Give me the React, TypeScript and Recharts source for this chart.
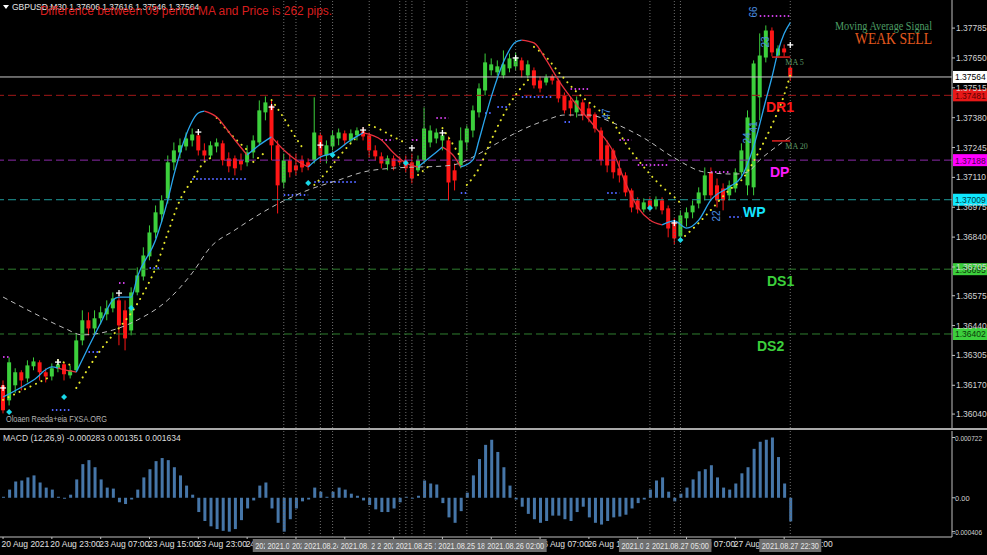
import React from 'react'
import { ComposedChart, Bar, Line, XAxis, YAxis, ReferenceLine, ReferenceDot } from 'recharts'

const FONT = '"Liberation Sans", Arial, sans-serif'
const SERIF = '"Liberation Serif", "Times New Roman", serif'
const SLOTS = 156

// candles, one per slot (oldest first)
const opens = [1.3617,1.36102,1.3617,1.36229,1.36201,1.36256,1.36274,1.36229,1.3621,1.36247,1.36265,1.36215,1.36238,1.36373,1.36464,1.36427,1.36473,1.36491,1.36518,1.36554,1.36509,1.36418,1.3659,1.36662,1.36753,1.36861,1.36943,1.37015,1.37178,1.37223,1.3725,1.37277,1.373,1.37232,1.37209,1.3725,1.37264,1.37196,1.37196,1.37187,1.37178,1.37223,1.37268,1.37404,1.37435,1.37255,1.37087,1.37187,1.37164,1.37187,1.37178,1.37187,1.373,1.37209,1.3725,1.37286,1.37309,1.37277,1.373,1.37318,1.373,1.37232,1.37205,1.37169,1.37196,1.37187,1.37187,1.37178,1.37142,1.37187,1.37268,1.37286,1.37277,1.37277,1.37142,1.37164,1.37268,1.37322,1.37404,1.37503,1.37594,1.37585,1.37571,1.37603,1.37612,1.37639,1.37571,1.37594,1.37548,1.37539,1.37566,1.37548,1.37481,1.37458,1.37404,1.37449,1.37422,1.37395,1.37322,1.37255,1.37232,1.37151,1.37119,1.37051,1.37006,1.36965,1.37006,1.36979,1.37006,1.3697,1.36907,1.36843,1.36925,1.36952,1.36992,1.37029,1.37133,1.37074,1.3706,1.37029,1.3706,1.37133,1.37074,1.37065,1.37472,1.37652,1.37774,1.37661,1.37693,1.37606]
const highs = [1.36192,1.36296,1.36247,1.36238,1.36283,1.36296,1.36283,1.36247,1.36269,1.36283,1.36274,1.3626,1.36405,1.36509,1.365,1.36509,1.36527,1.36554,1.3659,1.36577,1.36554,1.36613,1.36703,1.36794,1.36893,1.36983,1.37029,1.37209,1.37268,1.37286,1.37313,1.37331,1.37313,1.37264,1.37273,1.37286,1.37277,1.37223,1.37209,1.37218,1.37255,1.373,1.37458,1.37476,1.37458,1.37277,1.37218,1.37218,1.37218,1.37209,1.37196,1.37472,1.37313,1.37277,1.37322,1.37331,1.37322,1.37327,1.37336,1.37336,1.37313,1.37255,1.37223,1.37209,1.37209,1.37205,1.37209,1.37218,1.37209,1.37426,1.37345,1.37331,1.37322,1.37295,1.37173,1.37336,1.37345,1.37435,1.37535,1.3767,1.37648,1.37639,1.37684,1.3767,1.37675,1.37652,1.37639,1.37607,1.37566,1.37576,1.37576,1.37557,1.37494,1.37476,1.37476,1.37463,1.37449,1.37404,1.37336,1.37277,1.37241,1.37187,1.37133,1.3706,1.3702,1.37015,1.3702,1.37024,1.3702,1.36983,1.36925,1.36961,1.36974,1.37006,1.37065,1.37155,1.37155,1.37105,1.37083,1.37096,1.37151,1.37264,1.37413,1.37639,1.37761,1.37797,1.37788,1.37707,1.37711,1.37616]
const lows = [1.36043,1.36079,1.36134,1.36147,1.36183,1.36238,1.36192,1.36183,1.36192,1.36229,1.36192,1.36201,1.36229,1.36351,1.36396,1.36405,1.36446,1.36464,1.365,1.36351,1.36328,1.36396,1.36577,1.36644,1.36735,1.36834,1.36907,1.36992,1.37142,1.37196,1.37232,1.3725,1.37209,1.37187,1.37196,1.37223,1.37164,1.37133,1.37119,1.37142,1.3716,1.37196,1.37255,1.37368,1.37187,1.36947,1.3706,1.3711,1.37119,1.37133,1.37142,1.37173,1.37178,1.37173,1.37232,1.37255,1.37255,1.37264,1.37277,1.37277,1.372,1.37187,1.37151,1.37142,1.37142,1.37164,1.37133,1.37083,1.37133,1.37173,1.37246,1.37264,1.37232,1.37006,1.37051,1.37151,1.37232,1.37291,1.37381,1.37481,1.37571,1.37571,1.37557,1.37585,1.37594,1.37562,1.37557,1.37512,1.37494,1.37526,1.3753,1.37449,1.37399,1.37386,1.37381,1.37368,1.37359,1.37313,1.37164,1.37133,1.37105,1.37087,1.37024,1.36952,1.36947,1.36952,1.36956,1.36965,1.36943,1.36839,1.36807,1.36825,1.36888,1.36925,1.3697,1.37006,1.37006,1.36974,1.36961,1.37006,1.37042,1.37105,1.37029,1.37029,1.37368,1.3763,1.37657,1.37652,1.37657,1.37546]
const closes = [1.36057,1.36274,1.36229,1.36192,1.3626,1.36278,1.36229,1.3621,1.36247,1.36265,1.3622,1.36238,1.36373,1.36464,1.36427,1.36473,1.365,1.36518,1.36563,1.36441,1.36382,1.3659,1.36667,1.36757,1.36861,1.36952,1.37006,1.37178,1.37232,1.37255,1.37286,1.37304,1.37232,1.37209,1.37255,1.37268,1.37187,1.3716,1.37151,1.37169,1.37223,1.37277,1.37413,1.37449,1.37255,1.37074,1.37187,1.37133,1.37142,1.37155,1.3716,1.37313,1.37209,1.37255,1.373,1.37313,1.37277,1.37309,1.37322,1.37295,1.37232,1.37205,1.37173,1.37196,1.3716,1.37178,1.37151,1.37105,1.37187,1.37331,1.37322,1.37313,1.373,1.37087,1.37096,1.37277,1.37331,1.37413,1.37512,1.3763,1.37621,1.37612,1.37621,1.37648,1.37652,1.37594,1.37621,1.37526,1.37512,1.37562,1.37548,1.37467,1.37413,1.37422,1.37458,1.3739,1.37381,1.37331,1.37187,1.37164,1.37133,1.37119,1.37042,1.36974,1.36965,1.36997,1.3697,1.37011,1.36961,1.36879,1.36834,1.36938,1.36952,1.36983,1.37042,1.37119,1.37029,1.37006,1.37006,1.37074,1.37133,1.37232,1.37381,1.37625,1.37661,1.37774,1.37675,1.37693,1.37675,1.37564]

// MACD (12,26,9) histogram
const macdHist = [0.000012,0.000098,0.000195,0.000207,0.000244,0.000268,0.000183,0.000122,0.000098,0.000012,-0.000011,0.000037,0.00022,0.000403,0.000451,0.000366,0.00022,0.000122,0.00011,-0.000054,-0.000075,-0.000021,0.000098,0.000244,0.000342,0.000439,0.000476,0.000451,0.000366,0.000268,0.000146,0.000037,-0.000171,-0.000278,-0.000342,-0.000375,-0.000396,-0.000406,-0.000375,-0.000268,-0.000128,-0.000032,0.000146,0.000183,-0.000128,-0.0003,-0.000406,-0.000257,-0.000128,-0.000043,-0.000021,0.000122,0.000073,0.000012,0.000073,0.000122,0.000098,0.000049,0.000024,-0.000032,-0.000086,-0.000139,-0.000171,-0.000171,-0.000128,-0.000054,0.000012,-0.000011,0.000024,0.000207,0.000171,0.000159,-0.000064,-0.000235,-0.0003,-0.00016,0.000061,0.000268,0.000464,0.000634,0.000695,0.000549,0.000366,0.000146,-0.000021,-0.000107,-0.000193,-0.000257,-0.0003,-0.000278,-0.000214,-0.000214,-0.000257,-0.000278,-0.000171,-0.000107,-0.000235,-0.0003,-0.000321,-0.000278,-0.000235,-0.000225,-0.000203,-0.000128,-0.000064,-0.000021,0.000098,0.000207,0.000244,0.000073,-0.000043,0.000049,0.000122,0.00022,0.000317,0.000342,0.00039,0.000244,0.000122,0.000098,0.000171,0.000293,0.000366,0.000586,0.000671,0.000695,0.000722,0.000488,0.000171,-0.000283]

// fast MA, split where its colour changes
const fastMaSegments: [number, number][][] = [
  [[0,1.36117],[5,1.36194],[8,1.36253],[9,1.36248]],
  [[9,1.36248],[11,1.36235],[12,1.3623]],
  [[12,1.3623],[14,1.36343],[16,1.36452],[18,1.36556],[19,1.36569],[21,1.36569],[22,1.3666],[25,1.36827],[27,1.37008],[28,1.37121],[30,1.37302],[32,1.37401],[33,1.3741]],
  [[33,1.3741],[35,1.37383],[37,1.37315],[38,1.37279],[40,1.37211]],
  [[40,1.37211],[42,1.37256],[44,1.37293]],
  [[44,1.37293],[46,1.37234],[48,1.37189],[50,1.37157]],
  [[50,1.37157],[52,1.37202],[54,1.3722],[57,1.37279],[59,1.37311]],
  [[59,1.37311],[62,1.37279],[64,1.3722],[66,1.37175],[68,1.37157]],
  [[68,1.37157],[70,1.37202],[72,1.37247]],
  [[72,1.37247],[74,1.37202],[75,1.37157]],
  [[75,1.37157],[77,1.37189],[78,1.37279],[79,1.37379],[80,1.37474],[82,1.37632],[84,1.37722],[85,1.37731]],
  [[85,1.37731],[87,1.37718],[89,1.37641],[91,1.3755],[94,1.37437],[97,1.37338],[100,1.37225],[102,1.37085],[104,1.36976],[106,1.36917],[108,1.36895]],
  [[108,1.36895],[110,1.36913],[112,1.36881],[114,1.36917],[116,1.37008],[119,1.37067],[121,1.37112],[123,1.3725],[125,1.3746],[126,1.37564],[127,1.3768],[128,1.3776],[129,1.3781]],
]
const fastMaTrend = ['up','down','up','down','up','down','up','down','up','down','up','down','up']

const slowMa: [number, number][] = [[0,1.36569],[5,1.36497],[10,1.36429],[13,1.36398],[18,1.3642],[22,1.36465],[27,1.36556],[31,1.36678],[34,1.36795],[38,1.36872],[41,1.36926],[45,1.3699],[50,1.37053],[55,1.37098],[59,1.37134],[64,1.37152],[68,1.37157],[72,1.37161],[75,1.37175],[77,1.37202],[81,1.37265],[84,1.37311],[89,1.37369],[92,1.37392],[96,1.37392],[100,1.37356],[105,1.37288],[110,1.37198],[115,1.37134],[120,1.37125],[122,1.37134],[124,1.37189],[126,1.37234],[129,1.37293]]

// parabolic SAR runs
const sarSegments: [number, number][][] = [
  [[0,1.36104],[8,1.36212]],
  [[9,1.36284],[11,1.36262]],
  [[12,1.36158],[16,1.3633],[19,1.36429],[21,1.36497],[23,1.36587],[25,1.367],[27,1.36859],[29,1.37008],[31,1.37098],[33,1.3718],[34,1.37198]],
  [[35,1.37379],[37,1.37315],[40,1.37234]],
  [[41,1.3718],[43,1.37225]],
  [[44,1.3746],[46,1.37379],[48,1.37288],[49,1.37247]],
  [[51,1.37076],[53,1.37134],[55,1.37202],[57,1.37265],[58,1.37293]],
  [[60,1.37347],[62,1.37324],[64,1.37293],[66,1.37265]],
  [[68,1.37121],[70,1.37166]],
  [[72,1.37333],[74,1.37247],[75,1.37198]],
  [[76,1.37076],[78,1.37152],[80,1.37279],[82,1.37392],[84,1.37483],[86,1.3755]],
  [[87,1.377],[89,1.37654],[91,1.37587],[94,1.37496],[97,1.37428],[100,1.37356],[102,1.37265],[105,1.37157],[108,1.37067],[110,1.37021],[111,1.36994]],
  [[111,1.36827],[114,1.36904],[116,1.36963],[119,1.37053],[121,1.37098],[124,1.37234],[126,1.37347],[128,1.37483],[129,1.37573]],
]

// [from, to, price]
const supportSteps: [number, number, number][] = [[8,11,1.36058],[14,16,1.36321],[24,26,1.367],[31,40,1.37103],[46,50,1.3703],[51,58,1.37089],[75,76,1.37039],[79,80,1.37401],[81,83,1.37428],[85,90,1.37474],[92,93,1.3736],[99,101,1.37039],[119,121,1.36931]]
const resistanceSteps: [number, number, number][] = [[0,1,1.36298],[19,20,1.36633],[62,64,1.37279],[67,68,1.37279],[71,73,1.37379],[93,96,1.3751],[101,103,1.37279],[104,109,1.37166],[116,119,1.37134],[124,129,1.3784]]

const crossIdx = [0, 9, 19, 32, 44, 52, 59, 67, 72, 84, 110, 129]
const crossPrice = [1.36158, 1.36275, 1.36587, 1.37315, 1.37428, 1.37256, 1.37324, 1.37243, 1.37311, 1.3765, 1.36904, 1.37709]
const signalIdx = [1, 10, 21, 50, 54, 66, 106, 111]
const signalPrice = [1.36049, 1.36117, 1.3652, 1.37085, 1.37211, 1.37175, 1.36972, 1.36827]
const counterText = ['47', '22', '24', '66', '41', '23']
const counterIdx = [99, 117, 122, 123, 123, 125]
const counterPrice = [1.37397, 1.36936, 1.37288, 1.37858, 1.37338, 1.37722]

const maTagNames = ['MA 5', 'MA 20']
const maTagPrices = [1.37654, 1.37275]
const maTagFrom = [126, 126]
const maTagTo = [129, 129]

const levelNames = ['close', 'DR1', 'DP', 'WP', 'DS1', 'DS2']
const levelPrices = [1.37564, 1.37481, 1.37188, 1.37009, 1.36695, 1.36402]

const priceTicks = [1.37785, 1.3765, 1.37515, 1.3738, 1.37245, 1.3711, 1.36975, 1.3684, 1.36705, 1.36575, 1.3644, 1.36305, 1.3617, 1.3604]
const macdTicks = [0.000722, 0, -0.000406]

const timeTickIdx = [0, 8, 16, 24, 32, 40, 48, 56, 64, 72, 80, 88, 96, 104, 112, 120, 128]
const timeTickLabels = ['20 Aug 2021', '20 Aug 23:00', '23 Aug 07:00', '23 Aug 15:00', '23 Aug 23:00', '24 Aug 07:00', '24 Aug 15:00', '24 Aug 23:00', '25 Aug 07:00', '25 Aug 15:00', '25 Aug 23:00', '26 Aug 07:00', '26 Aug 15:00', '26 Aug 23:00', '27 Aug 07:00', '27 Aug 15:00', '27 Aug 23:00']

const vLineIdx = [46, 48, 52, 54, 60, 65, 66, 67, 69, 76, 84, 106, 110, 111, 129]
const vLineTimes = ['2021.08.24 13:00', '2021.08.24 15:00', '2021.08.24 19:00', '2021.08.24 21:00', '2021.08.25 03:00', '2021.08.25 08:00', '2021.08.25 09:00', '2021.08.25 10:00', '2021.08.25 12:00', '2021.08.25 18:00', '2021.08.26 02:00', '2021.08.27 00:00', '2021.08.27 04:00', '2021.08.27 05:00', '2021.08.27 22:30']

const BULL = '#3ccf3c'
const BEAR = '#ff1616'

const levelStyle: Record<string, { line: string; dash?: string; box: string; text: string; tagColor?: string; tagX?: number }> = {
  close: { line: '#c8c8c8', box: '#ffffff', text: '#000000' },
  DR1: { line: '#a01818', dash: '8 4', box: '#e81818', text: '#5a0000', tagColor: '#ff1a1a', tagX: 766 },
  DP: { line: '#8a2aa8', dash: '8 4', box: '#ff00ff', text: '#4a004a', tagColor: '#ff1aff', tagX: 770 },
  WP: { line: '#1f9a9a', dash: '8 4', box: '#10e8ff', text: '#003a44', tagColor: '#14e4ff', tagX: 743 },
  DS1: { line: '#2f7d2f', dash: '8 4', box: '#3ccf3c', text: '#0a3a0a', tagColor: '#3ccf3c', tagX: 767 },
  DS2: { line: '#2f7d2f', dash: '8 4', box: '#3ccf3c', text: '#0a3a0a', tagColor: '#3ccf3c', tagX: 757 },
}

const rows: Record<string, any>[] = Array.from({ length: SLOTS }, (_, i) => {
  const row: Record<string, any> = { i }
  if (i < closes.length) {
    row.o = opens[i]
    row.h = highs[i]
    row.l = lows[i]
    row.c = closes[i]
    row.range = [lows[i], highs[i]]
    row.macd = macdHist[i]
  }
  return row
})
fastMaSegments.forEach((seg, k) => seg.forEach(([i, v]) => { rows[i]['fast' + k] = v }))
sarSegments.forEach((seg, k) => seg.forEach(([i, v]) => { rows[i]['sar' + k] = v }))
slowMa.forEach(([i, v]) => { rows[i].slow = v })

function Candle(props: any) {
  const { x, y, width, height, payload } = props
  if (!payload || payload.o == null || !isFinite(y) || !isFinite(height)) return null
  const { o, h, l, c } = payload
  const k = height / (h - l || 1e-9)
  const top = y + (h - Math.max(o, c)) * k
  const bot = y + (h - Math.min(o, c)) * k
  const cx = x + width / 2
  const color = c >= o ? BULL : BEAR
  return (
    <g>
      <line x1={cx} x2={cx} y1={y} y2={y + height} stroke={color} strokeWidth={1} />
      <rect x={x} y={top} width={width} height={Math.max(1, bot - top)} fill={color} />
    </g>
  )
}

function PriceTick({ x, y, payload }: any) {
  return (
    <text x={x} y={y + 3} fill="#d2d2d2" fontSize={8.5} fontFamily={FONT}>
      {Number(payload.value).toFixed(5)}
    </text>
  )
}

function MacdTick({ x, y, payload }: any) {
  const v = Number(payload.value)
  const s = v === 0 ? '0.00' : v.toFixed(6)
  return (
    <text x={v < 0 ? x - 3 : x - 1} y={y + 3} fill="#d2d2d2" fontSize={7.5} fontFamily={FONT} textLength={v === 0 ? undefined : v < 0 ? 29 : 27} lengthAdjust="spacingAndGlyphs">
      {s}
    </text>
  )
}

function TimeTick({ x, y, payload }: any) {
  const n = timeTickIdx.indexOf(payload.value)
  if (n < 0) return null
  return (
    <text x={x - 1.5} y={y + 7} fill="#e0e0e0" fontSize={8.5} fontFamily={FONT}>
      {timeTickLabels[n]}
    </text>
  )
}

function LevelLabel({ viewBox, name, price }: any) {
  if (!viewBox) return null
  const s = levelStyle[name]
  const right = viewBox.x + viewBox.width
  const y = viewBox.y
  return (
    <g>
      {s.tagX != null && (
        <text x={s.tagX} y={y + 17} fill={s.tagColor} fontSize={14} fontWeight="bold" fontFamily={FONT}>
          {name}
        </text>
      )}
      <rect x={right + 1} y={y - 6} width={35} height={12} fill={s.box} />
      <text x={right + 3} y={y + 3.5} fill={s.text} fontSize={8.5} fontFamily={FONT}>
        {price.toFixed(5)}
      </text>
    </g>
  )
}

function MaTagLabel({ viewBox, text }: any) {
  if (!viewBox) return null
  return (
    <text x={viewBox.x + viewBox.width - 5} y={viewBox.y + 8} fill="#5f9a66" fontSize={8} fontFamily={SERIF}>
      {text}
    </text>
  )
}

function StampLabel({ viewBox, text }: any) {
  if (!viewBox) return null
  const cx = viewBox.x
  const y = viewBox.y + viewBox.height
  return (
    <g>
      <rect x={cx - 31} y={y + 2} width={62} height={13} fill="#6e6e6e" />
      <text x={cx} y={y + 12} textAnchor="middle" fill="#e6e6e6" fontSize={8.5} fontFamily={FONT} textLength={57} lengthAdjust="spacingAndGlyphs">
        {text}
      </text>
    </g>
  )
}

const crossShape = (p: any) => (
  <g stroke="#ffffff" strokeWidth={1.3}>
    <line x1={p.cx - 3} x2={p.cx + 3} y1={p.cy} y2={p.cy} />
    <line x1={p.cx} x2={p.cx} y1={p.cy - 3} y2={p.cy + 3} />
  </g>
)

const signalShape = (p: any) => (
  <path d={`M${p.cx},${p.cy - 3} L${p.cx + 3},${p.cy} L${p.cx},${p.cy + 3} L${p.cx - 3},${p.cy} Z`} fill="#19d8e8" />
)

const counterShape = (text: string) => (p: any) => (
  <text
    x={p.cx}
    y={p.cy + 3}
    transform={`rotate(-90 ${p.cx} ${p.cy})`}
    textAnchor="middle"
    fill="#4a8fe0"
    fontSize={10}
    fontFamily={FONT}
  >
    {text}
  </text>
)

export default function App() {
  return (
    <div style={{ position: 'fixed', left: 0, top: 0, width: 987, height: 555, background: '#000', overflow: 'hidden' }}>
      <div style={{ position: 'absolute', left: 0, top: 0 }}>
        <ComposedChart width={987} height={428} data={rows} margin={{ top: 0, right: 0, bottom: 0, left: 0 }}>
          <XAxis dataKey="i" hide />
          <YAxis
            orientation="right"
            width={35}
            domain={[1.35977, 1.37912]}
            allowDataOverflow
            ticks={priceTicks}
            interval={0}
            tick={<PriceTick />}
            tickSize={3}
            tickMargin={1}
            axisLine={{ stroke: '#c0c0c0' }}
            tickLine={{ stroke: '#c0c0c0' }}
          />
          {vLineIdx.map((v) => (
            <ReferenceLine key={'v' + v} x={v} stroke="#6e6e6e" strokeDasharray="1 2" />
          ))}
          {levelNames.map((n, k) => (
            <ReferenceLine
              key={n}
              y={levelPrices[k]}
              stroke={levelStyle[n].line}
              strokeDasharray={levelStyle[n].dash}
              label={<LevelLabel name={n} price={levelPrices[k]} />}
            />
          ))}
          {supportSteps.map(([a, b, p], k) => (
            <ReferenceLine key={'s' + k} segment={[{ x: a, y: p }, { x: b, y: p }]} stroke="#4f63ff" strokeWidth={2} strokeDasharray="1.5 2.5" />
          ))}
          {resistanceSteps.map(([a, b, p], k) => (
            <ReferenceLine key={'r' + k} segment={[{ x: a, y: p }, { x: b, y: p }]} stroke="#c83ce0" strokeWidth={2} strokeDasharray="1.5 2.5" />
          ))}
          <Line dataKey="slow" type="monotone" stroke="#bdbdbd" strokeWidth={1} strokeDasharray="5 4" dot={false} activeDot={false} connectNulls isAnimationActive={false} />
          <Bar dataKey="range" barSize={4} fill={BULL} shape={<Candle />} isAnimationActive={false} />
          {sarSegments.map((_, k) => (
            <Line
              key={'sar' + k}
              dataKey={'sar' + k}
              type="monotone"
              stroke="#e6e62a"
              strokeWidth={2}
              strokeLinecap="round"
              strokeDasharray="0.1 6"
              dot={false}
              activeDot={false}
              connectNulls
              isAnimationActive={false}
            />
          ))}
          {fastMaSegments.map((_, k) => (
            <Line
              key={'fast' + k}
              dataKey={'fast' + k}
              type="monotone"
              stroke={fastMaTrend[k] === 'up' ? '#2aa6ee' : '#e8303c'}
              strokeWidth={1.3}
              dot={false}
              activeDot={false}
              connectNulls
              isAnimationActive={false}
            />
          ))}
          {maTagNames.map((n, k) => (
            <ReferenceLine
              key={n}
              segment={[{ x: maTagFrom[k], y: maTagPrices[k] }, { x: maTagTo[k], y: maTagPrices[k] }]}
              stroke="#e02020"
              strokeWidth={1.5}
              label={<MaTagLabel text={n} />}
            />
          ))}
          {crossIdx.map((x, k) => (
            <ReferenceDot key={'c' + k} x={x} y={crossPrice[k]} r={3} shape={crossShape} />
          ))}
          {signalIdx.map((x, k) => (
            <ReferenceDot key={'g' + k} x={x} y={signalPrice[k]} r={3} shape={signalShape} />
          ))}
          {counterText.map((t, k) => (
            <ReferenceDot key={'n' + k} x={counterIdx[k]} y={counterPrice[k]} r={3} shape={counterShape(t)} />
          ))}
        </ComposedChart>
      </div>

      <div style={{ position: 'absolute', left: 0, top: 431 }}>
        <ComposedChart width={987} height={124} data={rows} margin={{ top: 0, right: 0, bottom: 0, left: 0 }}>
          <XAxis
            dataKey="i"
            height={18}
            ticks={timeTickIdx}
            interval={0}
            tick={<TimeTick />}
            tickSize={2}
            tickMargin={1}
            axisLine={{ stroke: '#c0c0c0' }}
            tickLine={{ stroke: '#c0c0c0' }}
          />
          <YAxis
            orientation="right"
            width={35}
            domain={[-0.00047, 0.0008]}
            allowDataOverflow
            ticks={macdTicks}
            interval={0}
            tick={<MacdTick />}
            tickSize={3}
            tickMargin={1}
            axisLine={{ stroke: '#c0c0c0' }}
            tickLine={{ stroke: '#c0c0c0' }}
          />
          <Bar dataKey="macd" barSize={3} fill="#4676a8" isAnimationActive={false} />
        </ComposedChart>
      </div>

      {/* vertical-line stamps drawn on top of the time axis */}
      <div style={{ position: 'absolute', left: 0, top: 431 }}>
        <ComposedChart width={987} height={124} data={rows} margin={{ top: 0, right: 35, bottom: 18, left: 0 }}>
          <XAxis dataKey="i" hide />
          <YAxis hide domain={[-0.00047, 0.0008]} allowDataOverflow />
          <Bar dataKey="macd" barSize={3} fill="transparent" isAnimationActive={false} />
          {vLineIdx.map((v, k) => (
            <ReferenceLine key={'v' + v} x={v} stroke="#6e6e6e" strokeDasharray="1 2" label={<StampLabel text={vLineTimes[k]} />} />
          ))}
        </ComposedChart>
      </div>

      <svg width={987} height={555} style={{ position: 'absolute', left: 0, top: 0, pointerEvents: 'none' }}>
        <rect x={0} y={428} width={987} height={2} fill="#a8a8a8" />
        <path d="M3,5 L9,5 L6,9 Z" fill="#ffffff" />
        <text x={12} y={10} fill="#e6e6e6" fontSize={8.5} fontFamily={FONT}>
          GBPUSD,M30 1.37606 1.37616 1.37546 1.37564
        </text>
        <text x={40} y={14.5} fill="#d81e1e" fontSize={12} fontFamily={FONT} textLength={292} lengthAdjust="spacingAndGlyphs">
          Difference between 09 period MA and Price is 262 pips.
        </text>
        <text x={835} y={30} fill="#4c9c64" fontSize={12} fontFamily={SERIF} textLength={97} lengthAdjust="spacingAndGlyphs">
          Moving Average Signal
        </text>
        <text x={855} y={44} fill="#e3581e" fontSize={16} fontFamily={SERIF} textLength={77} lengthAdjust="spacingAndGlyphs">
          WEAK SELL
        </text>
        <text x={6} y={422} fill="#b4b4b4" fontSize={9} fontFamily={FONT} textLength={101} lengthAdjust="spacingAndGlyphs">
          Oloaen Reeda+eia FXSA.ORG
        </text>
        <text x={3} y={441} fill="#dedede" fontSize={8.5} fontFamily={FONT}>
          MACD (12,26,9) -0.000283 0.001351 0.001634
        </text>
      </svg>
    </div>
  )
}
